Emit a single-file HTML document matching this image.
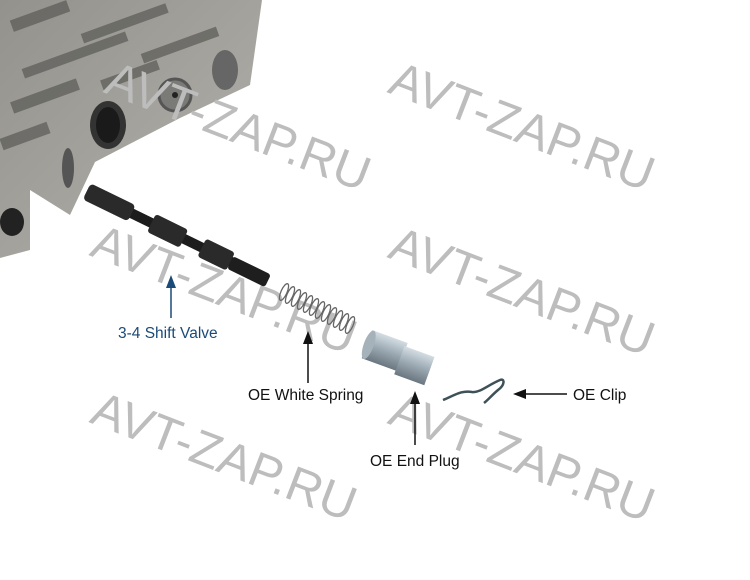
<!DOCTYPE html>
<html><head><style>html,body{margin:0;padding:0;background:#fff;width:750px;height:580px;overflow:hidden}</style></head>
<body>
<svg width="750" height="580" viewBox="0 0 750 580" xmlns="http://www.w3.org/2000/svg">
<defs>
<linearGradient id="vb" x1="0" y1="0" x2="1" y2="1"><stop offset="0" stop-color="#94928c"/><stop offset="1" stop-color="#b4b2ac"/></linearGradient>
<linearGradient id="plug" x1="0" y1="0" x2="0" y2="1"><stop offset="0" stop-color="#d4dde3"/><stop offset="0.5" stop-color="#9aa8b2"/><stop offset="1" stop-color="#6a7680"/></linearGradient>
</defs>
<polygon points="0,0 262,0 250,85 180,118 95,162 70,215 30,190 30,250 0,258" fill="url(#vb)"/>
<g fill="#5a5a56" opacity="0.7">
<rect x="10" y="10" width="60" height="12" transform="rotate(-20 40 16)"/>
<rect x="80" y="20" width="90" height="10" transform="rotate(-20 120 25)"/>
<rect x="20" y="50" width="110" height="10" transform="rotate(-20 75 55)"/>
<rect x="140" y="40" width="80" height="10" transform="rotate(-20 180 45)"/>
<rect x="10" y="90" width="70" height="12" transform="rotate(-20 45 96)"/>
<rect x="100" y="70" width="60" height="10" transform="rotate(-20 130 75)"/>
<rect x="0" y="130" width="50" height="12" transform="rotate(-20 25 136)"/>
</g>
<ellipse cx="108" cy="125" rx="18" ry="24" fill="#333"/>
<ellipse cx="108" cy="125" rx="12" ry="18" fill="#1a1a1a"/>
<circle cx="175" cy="95" r="16" fill="#7a7a76" stroke="#555" stroke-width="3"/>
<circle cx="175" cy="95" r="3" fill="#222"/>
<ellipse cx="225" cy="70" rx="13" ry="20" fill="#666"/>
<ellipse cx="68" cy="168" rx="6" ry="20" fill="#555"/>
<ellipse cx="12" cy="222" rx="12" ry="14" fill="#222"/>
<g font-family="Liberation Sans, sans-serif" font-size="49" fill="#bdbdbd" text-anchor="middle" dominant-baseline="central">
<text transform="translate(238,127) rotate(21)">AVT-ZAP.RU</text>
<text transform="translate(522,127) rotate(21)">AVT-ZAP.RU</text>
<text transform="translate(224,290) rotate(21)">AVT-ZAP.RU</text>
<text transform="translate(522,292) rotate(21)">AVT-ZAP.RU</text>
<text transform="translate(224,457) rotate(21)">AVT-ZAP.RU</text>
<text transform="translate(522,458) rotate(21)">AVT-ZAP.RU</text>
</g>
<g transform="translate(85,195) rotate(26)">
<rect x="0" y="-9" width="200" height="10" fill="#1c1c1c"/>
<rect x="0" y="-13" width="50" height="18" rx="4" fill="#2a2a2a"/>
<rect x="72" y="-14" width="36" height="20" rx="3" fill="#2a2a2a"/>
<rect x="128" y="-14" width="32" height="20" rx="3" fill="#2a2a2a"/>
<rect x="160" y="-10" width="42" height="14" rx="3" fill="#1e1e1e"/>
</g>
<g stroke="#666" stroke-width="1.3" fill="none">
<ellipse cx="284" cy="292" rx="3" ry="9" transform="rotate(24 284 292)"/>
<ellipse cx="290" cy="295" rx="3" ry="9" transform="rotate(24 290 295)"/>
<ellipse cx="296" cy="298" rx="3" ry="9" transform="rotate(24 296 298)"/>
<ellipse cx="302" cy="301" rx="3" ry="9" transform="rotate(24 302 301)"/>
<ellipse cx="308" cy="304" rx="3" ry="9" transform="rotate(24 308 304)"/>
<ellipse cx="314" cy="307" rx="3" ry="9" transform="rotate(24 314 307)"/>
<ellipse cx="320" cy="310" rx="3" ry="9" transform="rotate(24 320 310)"/>
<ellipse cx="326" cy="313" rx="3" ry="9" transform="rotate(24 326 313)"/>
<ellipse cx="332" cy="316" rx="3" ry="9" transform="rotate(24 332 316)"/>
<ellipse cx="338" cy="319" rx="3" ry="9" transform="rotate(24 338 319)"/>
<ellipse cx="344" cy="322" rx="3" ry="9" transform="rotate(24 344 322)"/>
<ellipse cx="350" cy="325" rx="3" ry="9" transform="rotate(24 350 325)"/>
</g>
<g transform="translate(372,330) rotate(20)">
<rect x="0" y="0" width="38" height="30" fill="url(#plug)"/>
<rect x="36" y="4" width="32" height="30" fill="url(#plug)"/>
<ellipse cx="2" cy="15" rx="5" ry="15" fill="#a6b2ba"/>
</g>
<path d="M443,400 C455,395 462,390 472,392 C480,393 488,385 500,380 C505,378 505,385 498,390 C492,395 488,400 484,403" stroke="#3e5058" stroke-width="2.5" fill="none"/>
<g stroke="#111" stroke-width="1.5">
<line x1="171" y1="318" x2="171" y2="284" stroke="#1a4a78"/>
<line x1="308" y1="383" x2="308" y2="340"/>
<line x1="415" y1="445" x2="415" y2="400"/>
<line x1="567" y1="394" x2="522" y2="394"/>
</g>
<polygon points="171,275 166,288 176,288" fill="#1a4a78"/>
<polygon points="308,331 303,344 313,344" fill="#111"/>
<polygon points="415,391 410,404 420,404" fill="#111"/>
<polygon points="513,394 526,389 526,399" fill="#111"/>
<g font-family="Liberation Sans, sans-serif" font-size="15.5">
<text x="118" y="338" fill="#1a4a78">3-4 Shift Valve</text>
<text x="248" y="400" fill="#111">OE White Spring</text>
<text x="370" y="466" fill="#111">OE End Plug</text>
<text x="573" y="400" fill="#111">OE Clip</text>
</g>
</svg>
</body></html>
